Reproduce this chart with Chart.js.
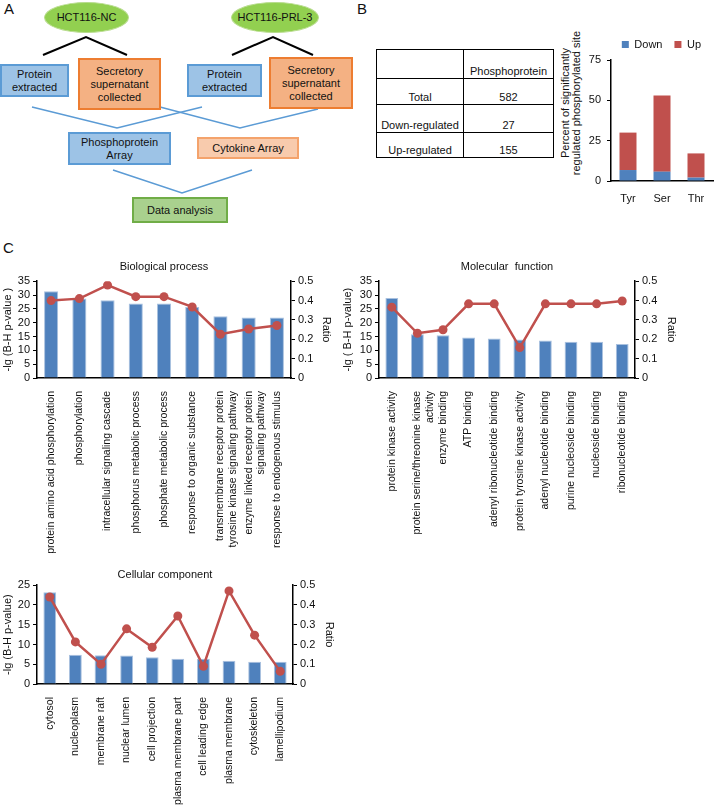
<!DOCTYPE html>
<html>
<head>
<meta charset="utf-8">
<script src="https://cdn.jsdelivr.net/npm/chart.js@4.4.1/dist/chart.umd.min.js"></script>
<style>
  body { margin: 0; background: #fff; font-family: 'Liberation Sans', Arial, sans-serif; color: #111; }
  #page { position: relative; width: 716px; height: 805px; overflow: hidden; }
  .letter { position: absolute; font-size: 15px; line-height: 15px; }
  .node { position: absolute; box-sizing: border-box; display: flex; align-items: center; justify-content: center;
          text-align: center; font-size: 11px; line-height: 13px; }
  .blue { background: #9DC3E6; border: 2px solid #5B9BD5; }
  .orange { background: #F4B183; border: 2px solid #ED7D31; }
  .orange2 { background: #F8CBAD; border: 2px solid #F4A36C; }
  .green { background: #A9D18E; border: 2px solid #70AD47; }
  .oval { background: #92D050; border: 1px solid #B8DC8E; border-radius: 50%; }
  canvas { position: absolute; }
  table { position: absolute; left: 376px; top: 49px; border-collapse: collapse; font-size: 11px; }
  td { border: 1.5px solid #000; text-align: center; vertical-align: bottom; padding: 0 0 1px 0; }
  .ytitle { position: absolute; width: 160px; height: 22px; line-height: 11px; font-size: 11px; text-align: center;
            transform: rotate(-90deg); }
</style>
</head>
<body>
<div id="page">
  <div class="letter" style="left:4px;top:1px;">A</div>
  <div class="letter" style="left:357px;top:1px;">B</div>
  <div class="letter" style="left:3px;top:240px;">C</div>

  <svg width="360" height="240" style="position:absolute;left:0;top:0;">
    <polyline points="43,55 86,37 127,55" fill="none" stroke="#000" stroke-width="2"/>
    <polyline points="232,55 273,37 313,55" fill="none" stroke="#000" stroke-width="2"/>
    <polyline points="32,107 117,128 202,107" fill="none" stroke="#5B9BD5" stroke-width="1.5"/>
    <polyline points="160,107 240,128 318,109" fill="none" stroke="#5B9BD5" stroke-width="1.5"/>
    <polyline points="113,170 182,193 252,170" fill="none" stroke="#5B9BD5" stroke-width="1.5"/>
  </svg>

  <div class="node oval" style="left:44px;top:2px;width:85px;height:31px;">HCT116-NC</div>
  <div class="node oval" style="left:231px;top:2px;width:88px;height:31px;">HCT116-PRL-3</div>
  <div class="node blue" style="left:0px;top:64px;width:69px;height:33px;">Protein<br>extracted</div>
  <div class="node orange" style="left:78px;top:58px;width:83px;height:52px;">Secretory<br>supernatant<br>collected</div>
  <div class="node blue" style="left:187px;top:64px;width:75px;height:33px;">Protein<br>extracted</div>
  <div class="node orange" style="left:269px;top:57px;width:84px;height:52px;">Secretory<br>supernatant<br>collected</div>
  <div class="node blue" style="left:68px;top:132px;width:103px;height:33px;">Phosphoprotein<br>Array</div>
  <div class="node orange2" style="left:197px;top:137px;width:102px;height:22px;">Cytokine Array</div>
  <div class="node green" style="left:132px;top:197px;width:96px;height:26px;">Data analysis</div>

  <table>
    <tr style="height:29px;"><td style="width:86px;"></td><td style="width:89px;">Phosphoprotein</td></tr>
    <tr style="height:26px;"><td>Total</td><td>582</td></tr>
    <tr style="height:28px;"><td>Down-regulated</td><td>27</td></tr>
    <tr style="height:25px;"><td>Up-regulated</td><td>155</td></tr>
  </table>

  <div class="ytitle" style="left:491px;top:92px;">Percent of significantly<br>regulated phosphorylated site</div>
  <canvas id="siteChart" width="166" height="182" style="left:550px;top:27px;"></canvas>

  <canvas id="bpChart" width="340" height="302" style="left:0px;top:258px;"></canvas>
  <canvas id="mfChart" width="345" height="302" style="left:340px;top:258px;"></canvas>
  <canvas id="ccChart" width="340" height="243" style="left:0px;top:562px;"></canvas>
</div>

<script>
// panel B: share of regulated sites per residue (%)
const siteLabels = ['Tyr', 'Ser', 'Thr'];
const siteDown = [6.8, 5.8, 2.1];
const siteUp = [23.2, 47.2, 15.0];

// panel C: GO enrichment, -lg(B-H p) bars and ratio line
const bpLabels = [
  'protein amino acid phosphorylation', 'phosphorylation', 'intracellular signaling cascade',
  'phosphorus metabolic process', 'phosphate metabolic process', 'response to organic substance',
  ['transmembrane receptor protein', 'tyrosine kinase signaling pathway'],
  ['enzyme linked receptor protein', 'signaling pathway'],
  'response to endogenous stimulus'
];
const bpLogP = [31.4, 28.7, 28.1, 26.9, 26.9, 25.7, 22.3, 21.9, 21.9];
const bpRatio = [0.40, 0.41, 0.48, 0.42, 0.42, 0.367, 0.226, 0.253, 0.271];

const mfLabels = [
  'protein kinase activity', ['protein serine/threonine kinase', 'activity'], 'enzyme binding',
  'ATP binding', 'adenyl ribonucleotide binding', 'protein tyrosine kinase activity',
  'adenyl nucleotide binding', 'purine nucleoside binding', 'nucleoside binding', 'ribonucleotide binding'
];
const mfLogP = [28.9, 15.8, 15.5, 14.6, 14.3, 13.9, 13.6, 13.1, 13.1, 12.3];
const mfRatio = [0.366, 0.231, 0.249, 0.383, 0.383, 0.157, 0.383, 0.383, 0.383, 0.398];

const ccLabels = [
  'cytosol', 'nucleoplasm', 'membrane raft', 'nuclear lumen', 'cell projection',
  'plasma membrane part', 'cell leading edge', 'plasma membrane', 'cytoskeleton', 'lamellipodium'
];
const ccLogP = [23.2, 7.4, 7.3, 7.2, 6.8, 6.4, 6.4, 5.9, 5.6, 5.6];
const ccRatio = [0.44, 0.213, 0.10, 0.279, 0.186, 0.344, 0.09, 0.471, 0.247, 0.064];

Chart.defaults.font.family = "'Liberation Sans', Arial, sans-serif";
Chart.defaults.font.size = 11;
Chart.defaults.color = '#111';

const BLUE = '#4F81BD';
const RED = '#C0504D';

function goChart(id, title, labels, logP, ratio, cfg) {
  return new Chart(document.getElementById(id), {
    type: 'bar',
    data: {
      labels: labels,
      datasets: [
        {
          type: 'line', label: 'Ratio', data: ratio, yAxisID: 'y1',
          borderColor: RED, backgroundColor: RED, borderWidth: 2.5,
          pointRadius: 4.5, pointBackgroundColor: RED, pointBorderWidth: 0, order: 0
        },
        {
          type: 'bar', label: '-lg (B-H p-value)', data: logP, yAxisID: 'y',
          backgroundColor: BLUE, borderColor: '#A9C1DF', borderWidth: 1,
          barPercentage: 0.5, categoryPercentage: 1, order: 1
        }
      ]
    },
    options: {
      responsive: false,
      animation: false,
      layout: { padding: 0 },
      plugins: {
        legend: { display: false },
        tooltip: { enabled: false },
        title: {
          display: true, text: title, fullSize: false, color: '#111',
          font: { size: 11, weight: 'normal' },
          padding: { top: cfg.titleTop, bottom: cfg.titleBottom }
        }
      },
      scales: {
        x: {
          grid: { display: false },
          border: { display: true, color: '#000', width: 1.5 },
          ticks: { autoSkip: false, minRotation: 90, maxRotation: 90, padding: 5, font: { size: 10.5 } },
          afterFit: s => { s.height = cfg.xHeight; }
        },
        y: {
          position: 'left', min: 0, max: cfg.yMax,
          ticks: { stepSize: 5, padding: 3, autoSkip: false },
          grid: { drawOnChartArea: false, tickLength: 4, color: '#000' },
          border: { color: '#000', width: 1.5 },
          title: { display: true, text: cfg.yTitle, padding: { top: 1, bottom: 0 } },
          afterFit: s => { s.width = cfg.leftW; }
        },
        y1: {
          position: 'right', min: 0, max: 0.5,
          ticks: { stepSize: 0.1, padding: 3, autoSkip: false },
          grid: { drawOnChartArea: false, tickLength: 4, color: '#000' },
          border: { color: '#000', width: 1.5 },
          title: { display: true, text: 'Ratio', padding: { top: cfg.ratioPad, bottom: 0 } },
          afterFit: s => { s.width = cfg.rightW; }
        }
      }
    }
  });
}

goChart('bpChart', 'Biological process', bpLabels, bpLogP, bpRatio,
  { yMax: 35, yTitle: '-lg (B-H p-value )', leftW: 37, rightW: 49, xHeight: 182, titleTop: 2, titleBottom: 8, ratioPad: 7 });
goChart('mfChart', 'Molecular  function', mfLabels, mfLogP, mfRatio,
  { yMax: 35, yTitle: '-lg ( B-H p-value)', leftW: 39, rightW: 50, xHeight: 182, titleTop: 2, titleBottom: 8, ratioPad: 7 });
goChart('ccChart', 'Cellular component', ccLabels, ccLogP, ccRatio,
  { yMax: 25, yTitle: '-lg (B-H p-value)', leftW: 37, rightW: 47, xHeight: 121, titleTop: 6, titleBottom: 4, ratioPad: 4 });

new Chart(document.getElementById('siteChart'), {
  type: 'bar',
  data: {
    labels: siteLabels,
    datasets: [
      { label: 'Down', data: siteDown, backgroundColor: BLUE, barPercentage: 0.5, categoryPercentage: 1 },
      { label: 'Up', data: siteUp, backgroundColor: RED, barPercentage: 0.5, categoryPercentage: 1 }
    ]
  },
  options: {
    responsive: false,
    animation: false,
    layout: { padding: { right: 3 } },
    plugins: {
      tooltip: { enabled: false },
      legend: {
        display: true, position: 'top', align: 'end',
        labels: { boxWidth: 7, boxHeight: 7, padding: 12, color: '#111', font: { size: 11 } }
      }
    },
    scales: {
      x: {
        stacked: true,
        grid: { display: false },
        border: { display: true, color: '#000', width: 1.5 },
        ticks: { padding: 3, maxRotation: 0 },
        afterFit: s => { s.height = 28; }
      },
      y: {
        stacked: true, min: 0, max: 75,
        ticks: { stepSize: 25, padding: 6, autoSkip: false },
        grid: { drawOnChartArea: false, tickLength: 4, color: '#000' },
        border: { color: '#000', width: 1.5 },
        afterFit: s => { s.width = 61; }
      }
    }
  }
});
</script>
</body>
</html>
